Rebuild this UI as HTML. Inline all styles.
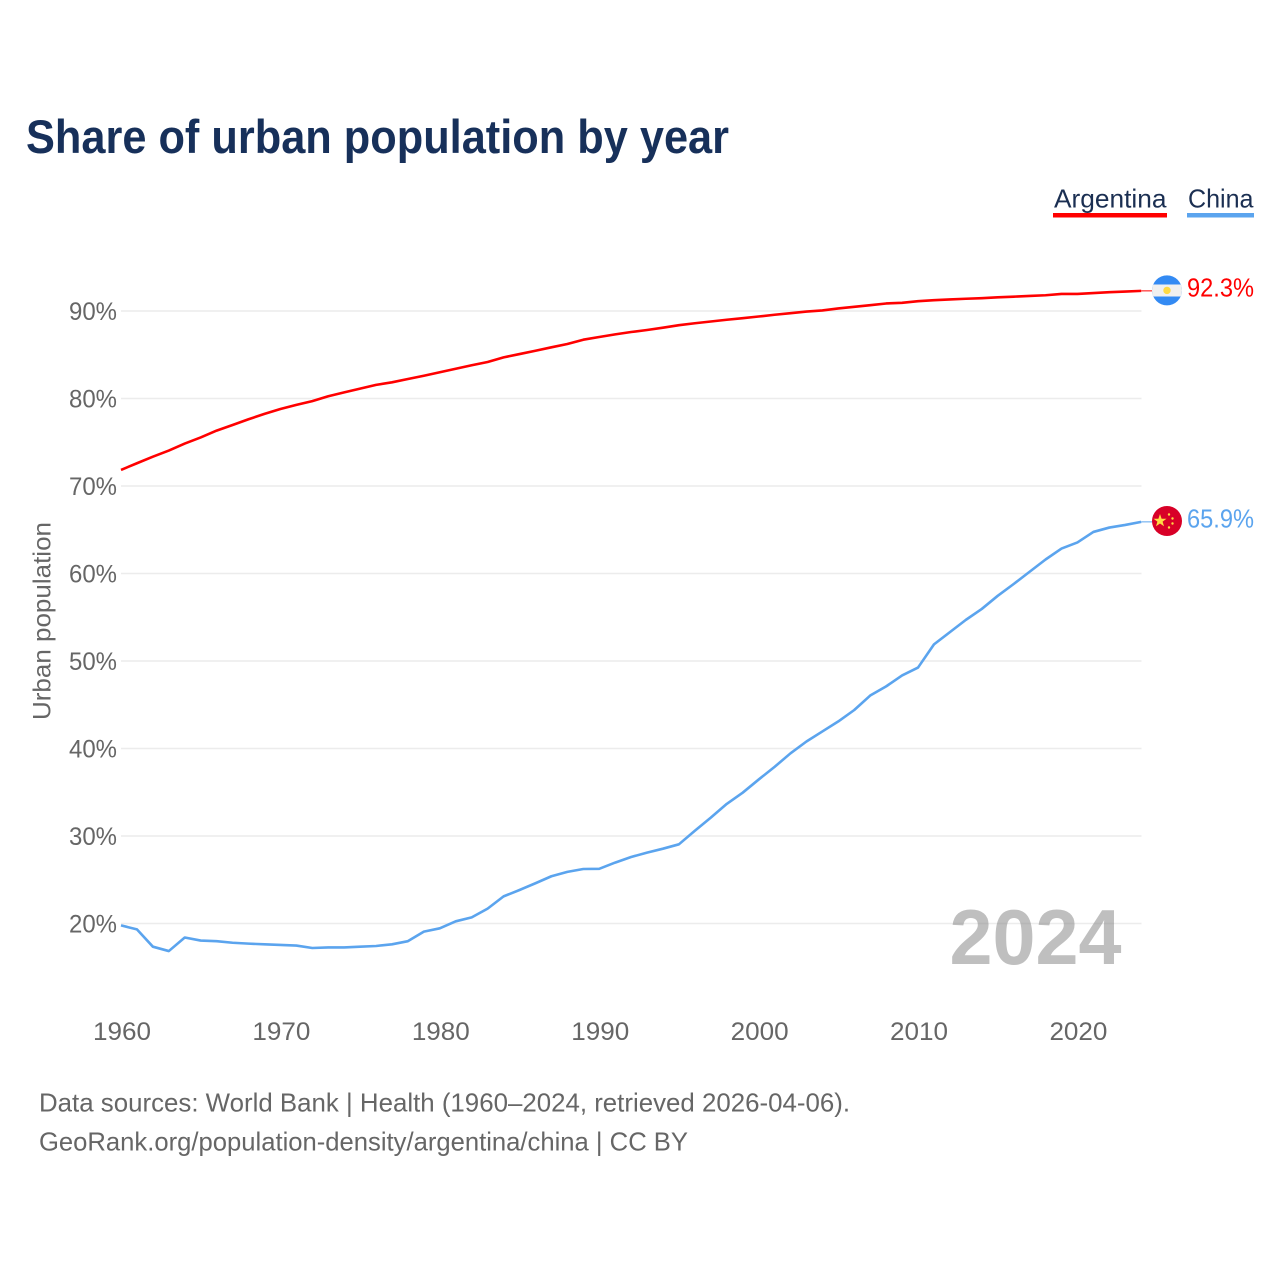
<!DOCTYPE html>
<html lang="en">
<head>
<meta charset="utf-8">
<title>Share of urban population by year</title>
<style>
html,body{margin:0;padding:0;background:#fff;}
body{width:1280px;height:1280px;overflow:hidden;}
svg{display:block;}
text{font-family:"Liberation Sans",sans-serif;}
</style>
</head>
<body>
<svg id="chart" xmlns="http://www.w3.org/2000/svg" width="1280" height="1280" viewBox="0 0 1280 1280">
  <rect x="0" y="0" width="1280" height="1280" fill="#ffffff"/>
  <text x="26" y="153" font-size="47" font-weight="700" fill="#17305a" textLength="703" lengthAdjust="spacingAndGlyphs">Share of urban population by year</text>

  <g>
    <g>
      <text x="1054" y="207.5" font-size="26" fill="#1b2f52" textLength="112.5" lengthAdjust="spacingAndGlyphs">Argentina</text>
      <rect x="1053" y="213" width="114" height="4.5" fill="#ff0000"/>
    </g>
    <g>
      <text x="1188" y="207.5" font-size="26" fill="#1b2f52" textLength="65.5" lengthAdjust="spacingAndGlyphs">China</text>
      <rect x="1187" y="213" width="67" height="4.5" fill="#5ba4ee"/>
    </g>
  </g>

  <g id="grid"></g>
  <g id="yticks"></g>
  <g id="xticks"></g>
  <text transform="translate(50.5,720) rotate(-90)" x="0" y="0" font-size="25" fill="#666666" textLength="198" lengthAdjust="spacingAndGlyphs">Urban population</text>

  <text x="949.5" y="964" font-size="78" font-weight="700" fill="#808080" fill-opacity="0.5" textLength="172" lengthAdjust="spacingAndGlyphs">2024</text>

  <g id="series"></g>

  <g id="flag-argentina">
    <clipPath id="clip-ar"><circle cx="1167" cy="290.4" r="15"/></clipPath>
    <g clip-path="url(#clip-ar)">
      <rect x="1152" y="275" width="30" height="31" fill="#338af3"/>
      <rect x="1152" y="284.5" width="30" height="12" fill="#f0f0f0"/>
    </g>
    <circle cx="1167" cy="290.4" r="3.7" fill="#ffda44"/>
  </g>
  <g id="flag-china">
    <circle cx="1167" cy="521" r="15" fill="#d80027"/>
    <polygon fill="#ffda44" points="1160,514 1161.6,518.7 1166.5,518.7 1162.6,521.6 1164,526.3 1160,523.5 1156,526.3 1157.4,521.6 1153.5,518.7 1158.4,518.7"/>
    <circle cx="1169" cy="514.5" r="1.2" fill="#ffda44"/>
    <circle cx="1172.5" cy="518.5" r="1.2" fill="#ffda44"/>
    <circle cx="1172.5" cy="523.5" r="1.2" fill="#ffda44"/>
    <circle cx="1169" cy="527.5" r="1.2" fill="#ffda44"/>
  </g>

  <g id="labels"></g>

  <text x="39" y="1111.5" font-size="26" fill="#666666" textLength="811" lengthAdjust="spacingAndGlyphs">Data sources: World Bank | Health (1960–2024, retrieved 2026-04-06).</text>
  <text x="39" y="1150.5" font-size="26" fill="#666666" textLength="649" lengthAdjust="spacingAndGlyphs">GeoRank.org/population-density/argentina/china | CC BY</text>
</svg>
<script>
const startYear = 1960;
const argentinaValues = [71.84,72.6,73.35,74.05,74.85,75.55,76.33,76.97,77.63,78.24,78.8,79.27,79.7,80.26,80.7,81.13,81.56,81.85,82.23,82.6,83.0,83.4,83.8,84.17,84.7,85.08,85.46,85.85,86.23,86.72,87.03,87.33,87.6,87.83,88.09,88.38,88.6,88.8,89,89.18,89.37,89.57,89.75,89.94,90.06,90.29,90.48,90.66,90.86,90.94,91.12,91.24,91.32,91.4,91.47,91.56,91.64,91.72,91.8,91.95,91.95,92.05,92.15,92.22,92.3];
const chinaValues = [19.78,19.33,17.35,16.85,18.4,18.05,17.98,17.8,17.7,17.62,17.55,17.48,17.2,17.27,17.27,17.35,17.43,17.62,17.98,19.07,19.45,20.25,20.7,21.7,23.1,23.83,24.6,25.4,25.9,26.23,26.25,26.96,27.6,28.1,28.55,29.05,30.6,32.1,33.67,34.95,36.45,37.9,39.45,40.8,41.95,43.1,44.4,46.05,47.1,48.35,49.25,51.9,53.3,54.7,55.95,57.45,58.8,60.2,61.6,62.85,63.55,64.75,65.25,65.55,65.9];
const yTickValues = [20,30,40,50,60,70,80,90];
const yTickLabels = ["20%","30%","40%","50%","60%","70%","80%","90%"];
const xTickValues = [1960,1970,1980,1990,2000,2010,2020];
const xTickLabels = ["1960","1970","1980","1990","2000","2010","2020"];

const NS = "http://www.w3.org/2000/svg";
const plotLeft = 121, plotRight = 1141.2, y90 = 311, pxPerPct = 8.75, yearSpan = 64;
function xScale(year){ return plotLeft + (year - startYear) * (plotRight - plotLeft) / yearSpan; }
function yScale(v){ return y90 + (90 - v) * pxPerPct; }
function make(tag, attrs, text){
  const el = document.createElementNS(NS, tag);
  for (const k in attrs) el.setAttribute(k, attrs[k]);
  if (text !== undefined) el.textContent = text;
  return el;
}

const gridGroup = document.getElementById("grid");
const yGroup = document.getElementById("yticks");
const xGroup = document.getElementById("xticks");
const seriesGroup = document.getElementById("series");
const labelGroup = document.getElementById("labels");

yTickValues.forEach(function(v, i){
  const line = make("line", {x1: plotLeft, x2: 1141.5, y1: yScale(v), y2: yScale(v), stroke: "#ececec", "stroke-width": 1.6});
  
  
  gridGroup.appendChild(line);
  const t = make("text", {x: 69, y: yScale(v) + 9, "font-size": 25, fill: "#666666", textLength: 48, lengthAdjust: "spacingAndGlyphs"}, yTickLabels[i]);
  
  
  yGroup.appendChild(t);
});

xTickValues.forEach(function(yr, i){
  const t = make("text", {x: xScale(yr) - 28, y: 1040, "font-size": 25, fill: "#666666", textLength: 58, lengthAdjust: "spacingAndGlyphs"}, xTickLabels[i]);
  
  
  xGroup.appendChild(t);
});

function pathFor(values){
  return values.map(function(v, i){
    return (i ? "L" : "M") + xScale(startYear + i).toFixed(2) + " " + yScale(v).toFixed(2);
  }).join(" ");
}

const argentinaLine = make("path", {d: pathFor(argentinaValues), fill: "none", stroke: "#ff0000", "stroke-width": 2.6, "stroke-linejoin": "round"});


seriesGroup.appendChild(argentinaLine);

const chinaLine = make("path", {d: pathFor(chinaValues), fill: "none", stroke: "#5ba4ee", "stroke-width": 2.6, "stroke-linejoin": "round"});


seriesGroup.appendChild(chinaLine);

const argentinaLast = argentinaValues[argentinaValues.length - 1];
const chinaLast = chinaValues[chinaValues.length - 1];

const argentinaLeader = make("line", {x1: plotRight, x2: 1153, y1: yScale(argentinaLast), y2: yScale(argentinaLast), stroke: "#ff0000", "stroke-width": 1});


seriesGroup.appendChild(argentinaLeader);

const chinaLeader = make("line", {x1: plotRight, x2: 1153, y1: yScale(chinaLast), y2: yScale(chinaLast), stroke: "#5ba4ee", "stroke-width": 1});


seriesGroup.appendChild(chinaLeader);

const argentinaLabel = make("text", {x: 1187, y: 296.5, "font-size": 26, fill: "#ff0000", textLength: 67, lengthAdjust: "spacingAndGlyphs"}, argentinaLast.toFixed(1) + "%");


labelGroup.appendChild(argentinaLabel);

const chinaLabel = make("text", {x: 1187, y: 527.5, "font-size": 26, fill: "#5ba4ee", textLength: 67, lengthAdjust: "spacingAndGlyphs"}, chinaLast.toFixed(1) + "%");


labelGroup.appendChild(chinaLabel);
</script>
</body>
</html>
